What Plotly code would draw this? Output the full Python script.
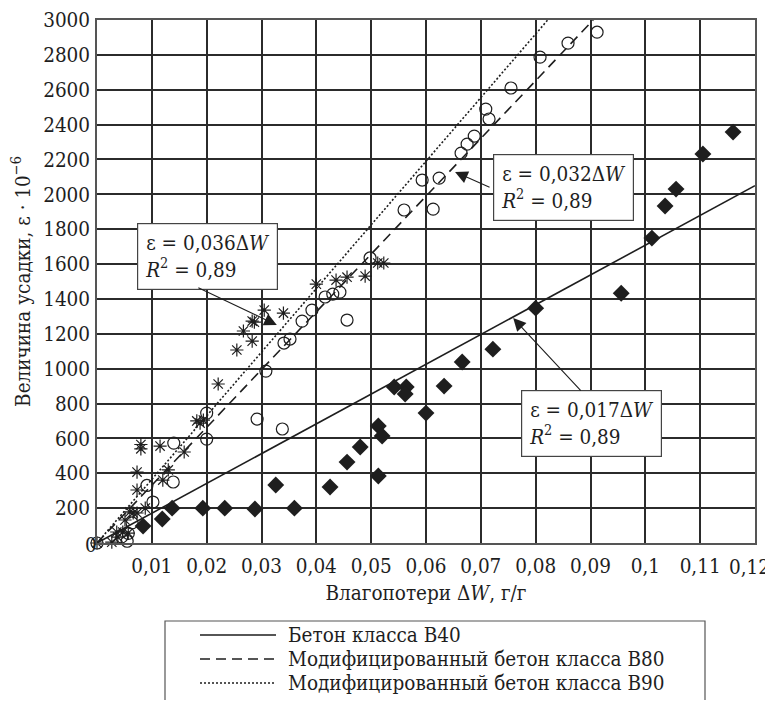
import plotly.graph_objects as go

# ---------------- data ----------------
b40_x = [0.0084, 0.0119, 0.0137, 0.0193, 0.0233, 0.0288, 0.0326, 0.0360, 0.0425,
         0.0456, 0.0480, 0.0513, 0.0520, 0.0513, 0.0542, 0.0564, 0.0562, 0.0633,
         0.0600, 0.0666, 0.0722, 0.0800, 0.0956, 0.1012, 0.1036, 0.1056, 0.1105, 0.1160]
b40_y = [97, 138, 200, 200, 200, 195, 333, 200, 321,
         464, 551, 671, 614, 384, 895, 895, 855, 900,
         745, 1038, 1112, 1347, 1433, 1749, 1933, 2030, 2231, 2357]

b80_x = [0.0, 0.0045, 0.0055, 0.0057, 0.0064, 0.0091, 0.0102, 0.0139, 0.0140, 0.0200,
         0.0200, 0.0292, 0.0308, 0.0338, 0.0341, 0.0352, 0.0374, 0.0392, 0.0416,
         0.0430, 0.0443, 0.0456, 0.0498, 0.0560, 0.0593, 0.0613, 0.0624, 0.0664,
         0.0675, 0.0688, 0.0709, 0.0715, 0.0755, 0.0808, 0.0859, 0.0912]
b80_y = [0, 35, 10, 55, 115, 330, 235, 350, 573, 745,
         596, 711, 986, 654, 1147, 1170, 1273, 1336, 1411,
         1428, 1439, 1279, 1635, 1910, 2082, 1915, 2093, 2236,
         2288, 2334, 2489, 2432, 2610, 2787, 2867, 2930]

b90_x = [0.0, 0.0027, 0.0038, 0.0036, 0.0047, 0.0057, 0.0051, 0.0060, 0.0066, 0.0073,
         0.0073, 0.0073, 0.0080, 0.0080, 0.0088, 0.0115, 0.0120, 0.0130, 0.0159,
         0.0182, 0.0188, 0.0194, 0.0221, 0.0255, 0.0267, 0.0283, 0.0287, 0.0283,
         0.0305, 0.0340, 0.0400, 0.0436, 0.0456, 0.0489, 0.0512, 0.0523]
b90_y = [0, 5, 34, 63, 63, 57, 132, 178, 172, 172,
         304, 407, 540, 565, 200, 556, 361, 419, 522,
         700, 688, 705, 912, 1107, 1216, 1273, 1267, 1158,
         1336, 1319, 1485, 1508, 1525, 1531, 1606, 1606]

# trend lines (end points)
fit40_x = [0.0, 0.12]
fit40_y = [0, 2050]
fit80_x = [0.0, 0.0905]
fit80_y = [0, 3000]
fit90_x = [0.0, 0.0822]
fit90_y = [0, 3000]

x_tick_vals = [0.01, 0.02, 0.03, 0.04, 0.05, 0.06, 0.07, 0.08, 0.09, 0.10, 0.11, 0.12]
x_tick_text = ["0,01", "0,02", "0,03", "0,04", "0,05", "0,06", "0,07", "0,08", "0,09",
               "0,1", "0,11", "0,12"]
y_tick_vals = [200, 400, 600, 800, 1000, 1200, 1400, 1600, 1800, 2000, 2200, 2400,
               2600, 2800, 3000]
y_tick_text = [str(v) for v in y_tick_vals]

legend_names = ["Бетон класса В40",
                "Модифицированный бетон класса В80",
                "Модифицированный бетон класса В90"]

eq_texts = ["ε = 0,036Δ<i>W</i><br><i>R</i><sup>2</sup> = 0,89",
            "ε = 0,032Δ<i>W</i><br><i>R</i><sup>2</sup> = 0,89",
            "ε = 0,017Δ<i>W</i><br><i>R</i><sup>2</sup> = 0,89"]

# ---------------- figure ----------------
FONT = "DejaVu Serif Condensed, DejaVu Serif"
INK = "#1e1e1e"
GRID = "#2b2b2b"
FS = 20.5

# page body has an 8 px margin; plot-area screen box is x 97..755, y 20..543
W, H = 765, 692
ML, MT = 89, 12
MR = W - (755 - 8)
MB = H - (543 - 8)

fig = go.Figure()

fig.add_trace(go.Scatter(x=fit40_x, y=fit40_y, mode="lines",
                         line=dict(color=INK, width=1.6), showlegend=False))
fig.add_trace(go.Scatter(x=fit80_x, y=fit80_y, mode="lines",
                         line=dict(color=INK, width=1.6, dash="10px,6px"),
                         showlegend=False))
fig.add_trace(go.Scatter(x=fit90_x, y=fit90_y, mode="lines",
                         line=dict(color=INK, width=1.6, dash="2px,2px"),
                         showlegend=False))

fig.add_trace(go.Scatter(x=b40_x, y=b40_y, mode="markers",
                         marker=dict(symbol="diamond", size=13, color=INK,
                                     line=dict(width=0)),
                         showlegend=False, cliponaxis=False))
fig.add_trace(go.Scatter(x=b80_x, y=b80_y, mode="markers",
                         marker=dict(symbol="circle-open", size=12, color=INK,
                                     line=dict(width=1.2)),
                         showlegend=False, cliponaxis=False))
fig.add_trace(go.Scatter(x=b90_x, y=b90_y, mode="markers",
                         marker=dict(symbol="asterisk-open", size=11, color=INK,
                                     line=dict(width=1.2, color=INK)),
                         showlegend=False, cliponaxis=False))

box_x = [0.0201, 0.0851, 0.0902]
box_y = [1646, 2039, 685]
for tx, bx, by in zip(eq_texts, box_x, box_y):
    fig.add_annotation(x=bx, y=by, xref="x", yref="y", text=tx, showarrow=False,
                       align="left", bgcolor="white", bordercolor="#444",
                       borderwidth=1.2, borderpad=7,
                       font=dict(family=FONT, size=FS, color=INK))

arrow_x = [0.0328, 0.0653, 0.0759]
arrow_y = [1250, 2128, 1290]
arrow_ax = [-80, 36, 69]
arrow_ay = [-38, 16, 74]
for hx, hy, ax, ay in zip(arrow_x, arrow_y, arrow_ax, arrow_ay):
    fig.add_annotation(x=hx, y=hy, xref="x", yref="y", text="", showarrow=True,
                       ax=ax, ay=ay, arrowhead=2, arrowsize=2.3, arrowwidth=1.1,
                       arrowcolor=INK, standoff=0, startstandoff=0)

def px2paper(px, py):
    return (px - 97) / 658.0, (543 - py) / 523.0

# corner "0"
zx, zy = px2paper(83, 559)
fig.add_annotation(x=zx, y=zy, xref="paper", yref="paper", text="0",
                   showarrow=False, font=dict(family=FONT, size=FS, color=INK))

# last x tick label sits at the very edge of the page: keep it inside
axis_ticktext = x_tick_text[:-1] + [""]
_, ly12 = px2paper(0, 567)
fig.add_annotation(x=x_tick_vals[-1], y=ly12, xref="x", yref="paper",
                   text=x_tick_text[-1], showarrow=False, xanchor="right",
                   yanchor="middle", xshift=17,
                   font=dict(family=FONT, size=FS, color=INK))

# custom legend (box + line samples + labels)
x0, y0 = px2paper(165, 621)
x1, y1 = px2paper(705, 730)
fig.add_shape(type="rect", xref="paper", yref="paper", x0=x0, y0=y1, x1=x1, y1=y0,
              line=dict(color="#555", width=1.2), fillcolor="white")
row_y = [635, 659, 683]
dashes = ["solid", "10px,6px", "2px,2px"]
for name, ry, dsh in zip(legend_names, row_y, dashes):
    lx0, ly = px2paper(200, ry)
    lx1, _ = px2paper(276, ry)
    fig.add_shape(type="line", xref="paper", yref="paper", x0=lx0, x1=lx1, y0=ly, y1=ly,
                  line=dict(color=INK, width=1.5, dash=dsh))
    tx, _ = px2paper(286, ry)
    fig.add_annotation(x=tx, y=ly, xref="paper", yref="paper", text=name,
                       showarrow=False, xanchor="left", yanchor="middle",
                       font=dict(family=FONT, size=FS, color=INK))

fig.update_layout(
    width=W, height=H, autosize=False,
    margin=dict(l=ML, r=MR, t=MT, b=MB, pad=0, autoexpand=False),
    paper_bgcolor="white", plot_bgcolor="white",
    font=dict(family=FONT, size=FS, color=INK),
    showlegend=False,
)
fig.update_xaxes(range=[0, 0.12], tickvals=x_tick_vals, ticktext=axis_ticktext,
                 showgrid=True, gridcolor=GRID, gridwidth=1.6,
                 showline=True, linecolor="#555", linewidth=1.6, mirror=True,
                 zeroline=False, ticks="", ticklabelstandoff=4, automargin=False,
                 ticklabeloverflow="allow",
                 tickfont=dict(family=FONT, size=FS, color=INK),
                 title=dict(text="Влагопотери Δ<i>W</i>, г/г", standoff=8,
                            font=dict(family=FONT, size=FS, color=INK)))
fig.update_yaxes(range=[0, 3000], tickvals=y_tick_vals, ticktext=y_tick_text,
                 showgrid=True, gridcolor=GRID, gridwidth=1.6,
                 showline=True, linecolor="#555", linewidth=1.6, mirror=True,
                 zeroline=False, ticks="", ticklabelstandoff=1, automargin=False,
                 ticklabeloverflow="allow",
                 tickfont=dict(family=FONT, size=FS, color=INK),
                 title=dict(text="Величина усадки, ε · 10<sup>−6</sup>", standoff=7,
                            font=dict(family=FONT, size=FS, color=INK)))

fig.write_html("out.html")
